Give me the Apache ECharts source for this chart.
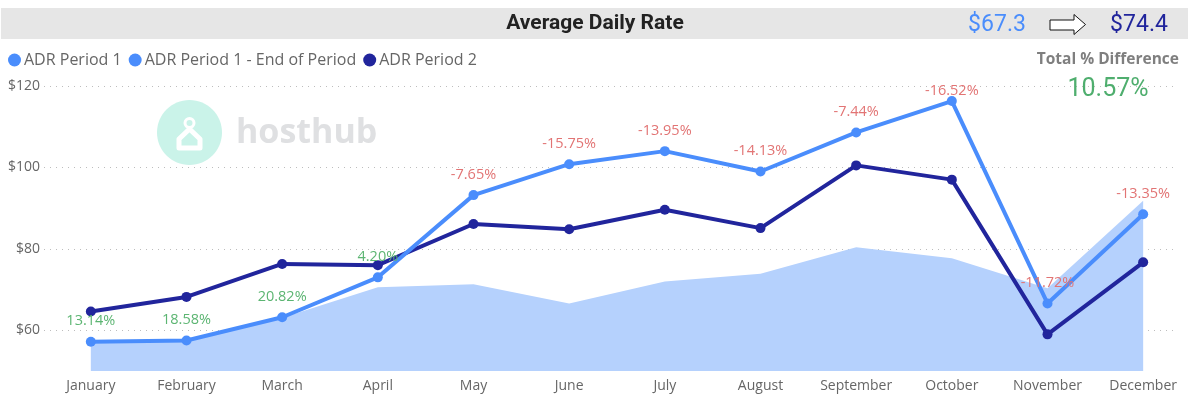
<!DOCTYPE html>
<html>
<head>
<meta charset="utf-8">
<style>html,body{margin:0;padding:0;background:#fff;overflow:hidden;width:1188px;height:405px}#w{width:1188px;height:405px;overflow:hidden}#c{width:1200px;height:405px}</style>
<script src="https://cdn.jsdelivr.net/npm/echarts@6/dist/echarts.min.js"></script>
</head>
<body>
<div id="w"><div id="c"></div></div>
<script>
const categories = ['January','February','March','April','May','June','July','August','September','October','November','December'];
const adrPeriod1 = [57.1,57.4,63.1,70.6,71.3,66.6,72.0,73.9,80.4,77.7,70.3,91.8];
const adrPeriod1End = [57.2,57.5,63.2,73.0,93.2,100.8,104.0,99.0,108.6,116.3,66.6,88.5];
const adrPeriod2 = [64.6,68.2,76.3,76.0,86.1,84.8,89.6,85.1,100.5,97.0,59.0,76.7];
const pctDiff = ['13.14%','18.58%','20.82%','4.20%','-7.65%','-15.75%','-13.95%','-14.13%','-7.44%','-16.52%','-11.72%','-13.35%'];
const yTicks = [60,80,100,120];

const BLUE='#4a8dfc', NAVY='#21259c', GREEN='#5cb572', RED='#e27474';
const FONT='"Open Sans", "Noto Sans", sans-serif';
const chart = echarts.init(document.getElementById('c'), null, {renderer:'canvas'});
chart.setOption({
  animation:false,
  backgroundColor:'#fff',
  textStyle:{fontFamily:FONT},
  legend:{
    left:3, top:47, icon:'circle', itemWidth:13, itemHeight:13, itemGap:7,
    textStyle:{color:'#666',fontSize:16,fontFamily:FONT,padding:[0,0,0,-2]},
    data:['ADR Period 1','ADR Period 1 - End of Period','ADR Period 2']
  },
  grid:[
    {left:44,width:1134,top:86,height:285},
    {left:43,width:1148,top:86,height:285}
  ],
  xAxis:[
    {gridIndex:0,type:'value',min:0,max:1,show:false},
    {gridIndex:1,type:'category',data:categories,boundaryGap:true,
     axisLine:{show:false},axisTick:{show:false},
     axisLabel:{color:'#666',fontSize:14,margin:8,interval:0,fontFamily:FONT},splitLine:{show:false}}
  ],
  yAxis:[
    {gridIndex:0,type:'value',min:50,max:120,
     axisLine:{show:false},
     axisTick:{show:false,customValues:yTicks},
     axisLabel:{customValues:yTicks,color:'#666',fontSize:14,margin:4,formatter:v=>'$'+v,fontFamily:FONT},
     splitLine:{show:true,lineStyle:{type:[1,5],color:'#bdbdbd',width:1}}},
    {gridIndex:1,type:'value',min:50,max:120,show:false,splitLine:{show:false}}
  ],
  series:[
    {name:'ADR Period 1',type:'line',xAxisIndex:1,yAxisIndex:1,data:adrPeriod1,symbol:'none',
     itemStyle:{color:BLUE},lineStyle:{width:0},areaStyle:{color:'#b5d1fd',opacity:1},z:1},
    {name:'ADR Period 1 - End of Period',type:'line',xAxisIndex:1,yAxisIndex:1,
     data:adrPeriod1End.map((v,i)=>({value:v,label:{
       show:true,position:'top',distance:categories[i]==='October'?-2:8,
       formatter:pctDiff[i],fontSize:14.5,fontFamily:FONT,
       color:pctDiff[i].startsWith('-')?RED:GREEN}})),
     symbol:'circle',symbolSize:10,itemStyle:{color:BLUE},lineStyle:{color:BLUE,width:4},z:3},
    {name:'ADR Period 2',type:'line',xAxisIndex:1,yAxisIndex:1,data:adrPeriod2,
     symbol:'circle',symbolSize:10,itemStyle:{color:NAVY},lineStyle:{color:NAVY,width:4},z:2}
  ],
  graphic:[
    {type:'rect',silent:true,z:-1,shape:{x:1,y:8,width:1187,height:31},style:{fill:'#e6e6e6'}},
    {type:'text',z:5,style:{x:595,y:24,text:'Average Daily Rate',fill:'#222',font:'bold 21px Roboto, sans-serif',textAlign:'center',textVerticalAlign:'middle'}},
    {type:'text',z:5,style:{x:997,y:25,text:'$67.3',fill:BLUE,font:'23px Roboto, sans-serif',textAlign:'center',textVerticalAlign:'middle'}},
    {type:'text',z:5,style:{x:1139,y:25,text:'$74.4',fill:NAVY,font:'23px Roboto, sans-serif',textAlign:'center',textVerticalAlign:'middle'}},
    {type:'polygon',z:5,shape:{points:[[1050,20],[1074,20],[1074,14.5],[1085.5,24.5],[1074,34.5],[1074,30],[1050,30]]},style:{fill:'#fff',stroke:'#111',lineWidth:1}},
    {type:'text',z:5,style:{x:1179,y:60,text:'Total % Difference',fill:'#7f7f7f',font:'bold 15.5px "Open Sans", sans-serif',textAlign:'right',textVerticalAlign:'middle'}},
    {type:'text',z:5,style:{x:1108,y:90,text:'10.57%',fill:'#4fae6e',font:'25px Roboto, sans-serif',textAlign:'center',textVerticalAlign:'middle'}},
    {type:'ellipse',z:0,shape:{cx:189.5,cy:132.5,rx:32.5,ry:32.5},style:{fill:'#caf3e9'}},
    {type:'circle',z:0,shape:{cx:189.5,cy:123,r:4.5},style:{fill:'none',stroke:'#fff',lineWidth:3}},
    {type:'polygon',z:0,shape:{points:[[179,139],[189.5,129],[200,139],[200,148],[179,148]]},style:{fill:'none',stroke:'#fff',lineWidth:5,lineJoin:'round'}},
    {type:'text',z:0,style:{x:236,y:133,text:'hosthub',fill:'#dfe0e2',font:'bold 34px "Open Sans", sans-serif',textAlign:'left',textVerticalAlign:'middle'}}
  ]
});
</script>
</body>
</html>
